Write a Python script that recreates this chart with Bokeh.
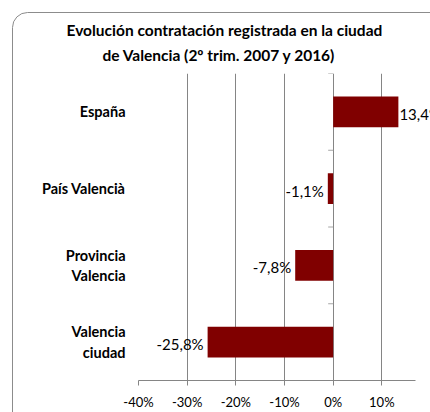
from bokeh.plotting import figure
from bokeh.models import (FactorRange, Range1d, FixedTicker, NumeralTickFormatter,
                          ColumnDataSource, LabelSet, Title)
from bokeh.core.properties import value
from bokeh.embed import file_html
from bokeh.resources import INLINE

# ---- data ----
title_lines = ["Evolución contratación registrada en la ciudad",
               "de Valencia (2º trim. 2007 y 2016)"]
categories = ["España", "País Valencià", "Provincia\nValencia", "Valencia\nciudad"]
values = [0.134, -0.011, -0.078, -0.258]
x_ticks = [-0.4, -0.3, -0.2, -0.1, 0.0, 0.1]
x_min, x_max = -0.40, 0.20
axis_end = 0.17

FONT = "Lato"
BAR = "#800000"
GRID = "#858585"
AXIS0 = "#a6a6a6"

W, H = 430, 412
LEFT, RIGHT, TOP, BOTTOM = 138, 0, 73, 28

labels = [f"{v*100:.1f}".replace(".", ",") + "%" for v in values]
aligns = ["left" if v > 0 else "right" for v in values]
offs = [1 if v > 0 else -4 for v in values]

src = ColumnDataSource(dict(cat=categories, val=values, lab=labels, al=aligns, off=offs))

p = figure(width=W, height=H,
           y_range=FactorRange(factors=categories[::-1], range_padding=0),
           x_range=Range1d(x_min, x_max),
           output_backend="svg", toolbar_location=None,
           min_border_left=LEFT, min_border_right=RIGHT,
           min_border_top=TOP, min_border_bottom=BOTTOM)

p.title = None
p.add_layout(Title(text=title_lines[1], align="left", text_font=FONT,
                   text_font_size="15.5px", text_font_style="bold",
                   text_color="#000000", offset=-36, standoff=19), "above")
p.add_layout(Title(text=title_lines[0], align="left", text_font=FONT,
                   text_font_size="15.5px", text_font_style="bold",
                   text_color="#000000", offset=-72, standoff=-8), "above")

p.hbar(y="cat", right="val", left=0, height=0.4, source=src,
       fill_color=BAR, line_color=None)

# category-axis tick marks at the band boundaries on the 0 line (pointing left)
tick_len = 5 * (x_max - x_min) / (W - LEFT - RIGHT)
bounds_y = [[c, 0.5] for c in categories] + [[categories[-1], -0.5]]
p.segment(x0=[0.0] * len(bounds_y), x1=[-tick_len] * len(bounds_y),
          y0=bounds_y, y1=bounds_y, line_color=AXIS0, line_width=1)

p.add_layout(LabelSet(x="val", y="cat", text="lab", source=src,
                      text_align="al", x_offset="off", y_offset=-2,
                      text_baseline="middle", text_font=value(FONT),
                      text_font_size="15px", text_color="#000000"))

p.outline_line_color = None
p.background_fill_color = "white"
p.border_fill_color = None

# rounded outer chart border (page decoration behind the transparent canvas border)
border_svg = ("data:image/svg+xml;utf8,<svg xmlns='http://www.w3.org/2000/svg' "
              "width='700' height='700'><rect x='12.5' y='12.5' width='600' height='600' "
              "rx='15' ry='15' fill='white' stroke='%238c8c8c' stroke-width='1'/></svg>")
p.styles = {"background-image": f'url("{border_svg}")',
            "background-repeat": "no-repeat",
            "background-color": "white"}

p.xaxis.ticker = FixedTicker(ticks=x_ticks)
p.xaxis.formatter = NumeralTickFormatter(format="0%")
p.xaxis.bounds = (x_min, axis_end)
p.xaxis.axis_line_color = GRID
p.xaxis.major_tick_line_color = GRID
p.xaxis.major_tick_out = 5
p.xaxis.major_tick_in = 0
p.xaxis.minor_tick_line_color = None
p.xaxis.major_label_text_font = FONT
p.xaxis.major_label_text_font_size = "13px"
p.xaxis.major_label_text_color = "#000000"
p.xaxis.major_label_standoff = 8

p.yaxis.axis_line_color = None
p.yaxis.major_tick_line_color = None
p.yaxis.minor_tick_line_color = None
p.yaxis.major_label_text_font = FONT
p.yaxis.major_label_text_font_size = "14.5px"
p.yaxis.major_label_text_font_style = "bold"
p.yaxis.major_label_text_color = "#000000"
p.yaxis.major_label_standoff = 7

p.xgrid.ticker = FixedTicker(ticks=x_ticks)
p.xgrid.grid_line_color = GRID
p.ygrid.grid_line_color = None

open("out.html", "w").write(file_html(p, INLINE))
